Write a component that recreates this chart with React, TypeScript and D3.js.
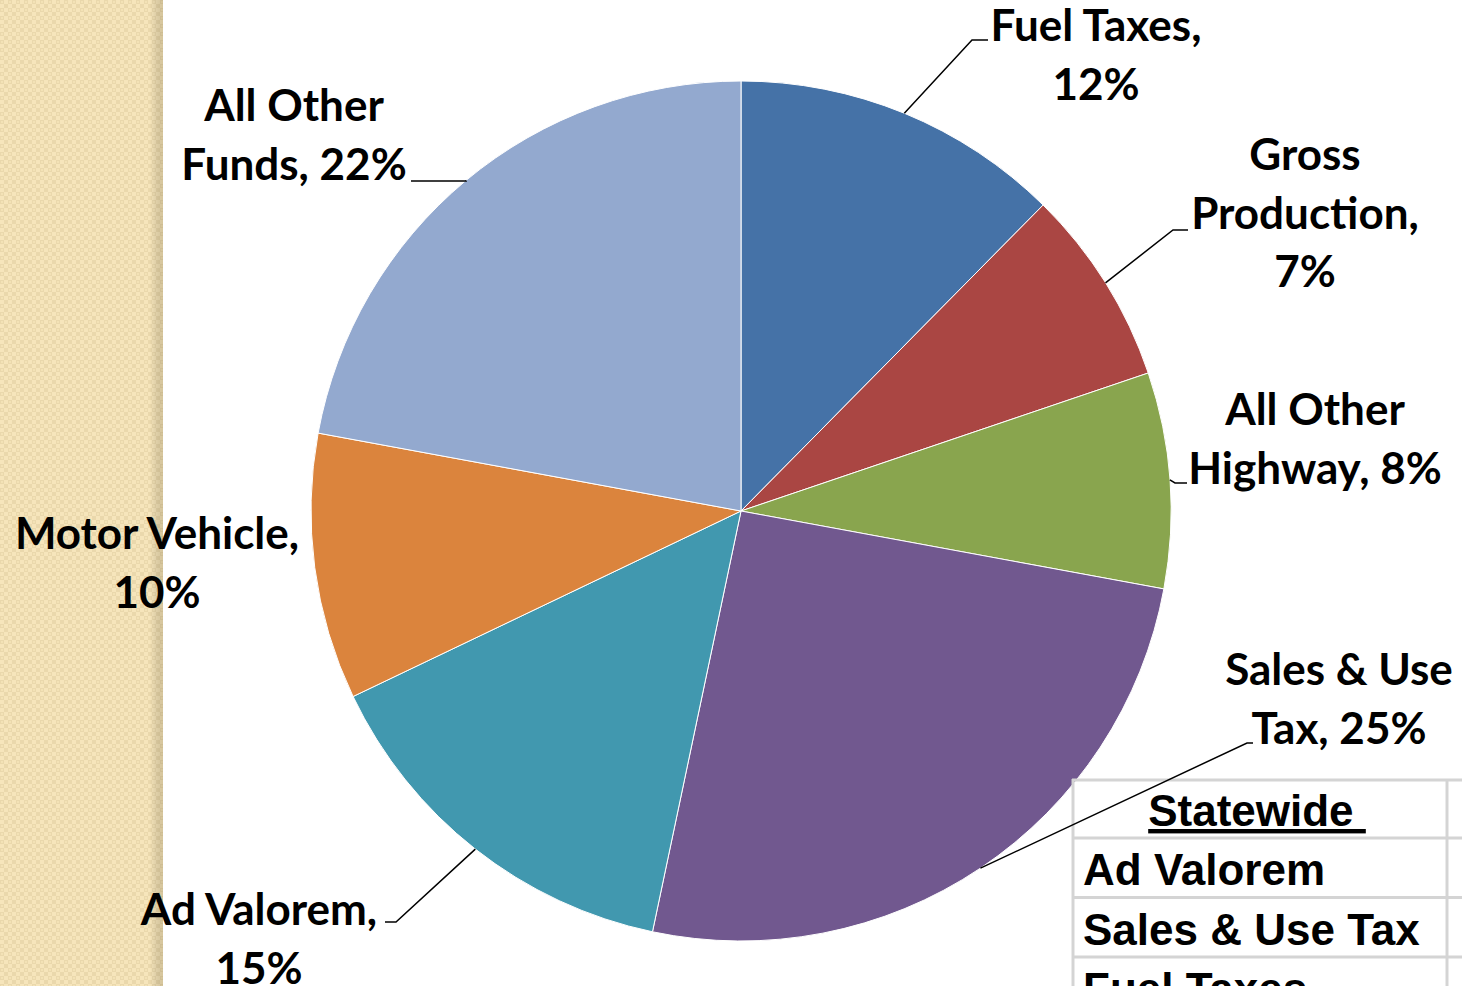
import React from "react";
import * as d3 from "d3";

const categories = [
  "Fuel Taxes",
  "Gross Production",
  "All Other Highway",
  "Sales & Use Tax",
  "Ad Valorem",
  "Motor Vehicle",
  "All Other Funds",
];
const shares = [12.4, 7.4, 8.1, 25.4, 14.6, 10.0, 22.1];
const labelLines = [
  ["Fuel Taxes,", "{p}"],
  ["Gross", "Production,", "{p}"],
  ["All Other", "Highway, {p}"],
  ["Sales & Use", "Tax, {p}"],
  ["Ad Valorem,", "{p}"],
  ["Motor Vehicle,", "{p}"],
  ["All Other", "Funds, {p}"],
];
const tableHeader = "Statewide";
const tableRows = ["Ad Valorem", "Sales & Use Tax", "Fuel Taxes"];

const colors = ["#4572A7", "#AA4643", "#89A54E", "#71588F", "#4198AF", "#DB843D", "#93A9CF"];

// label layout: center x, first baseline y, leader elbow, leader end
const labelLayout = [
  { x: 1096, y: 41, elbow: [972, 40], end: [988, 40] },
  { x: 1305, y: 170, elbow: [1173, 230], end: [1188, 230] },
  { x: 1315, y: 425, elbow: [1175, 483], end: [1187, 483] },
  { x: 1339, y: 685, elbow: [1247, 743], end: [1253, 743] },
  { x: 259, y: 925, elbow: [396, 922], end: [385, 922] },
  { x: 157, y: 549, elbow: null, end: null },
  { x: 294, y: 121, elbow: [466, 181], end: [411, 181] },
];

const W = 1462;
const H = 986;
const cx = 741;
const cy = 511;
const R = 430;
const lineH = 58.5;

export default function App() {
  const pie = d3.pie<number>().sort(null).value((d) => d)(shares);
  const arc = d3.arc<d3.PieArcDatum<number>>().innerRadius(0).outerRadius(R);
  const fmt = (v: number) => `${Math.round(v)}%`;

  return (
    <svg
      width={W}
      height={H}
      style={{ position: "absolute", left: 0, top: 0, display: "block" }}
    >
      <defs>
        <pattern id="chk" width="8" height="8" patternUnits="userSpaceOnUse">
          <rect width="8" height="8" fill="#f6e5bb" />
          <rect x="0" y="0" width="4" height="4" fill="#ead8ac" />
          <rect x="4" y="4" width="4" height="4" fill="#ead8ac" />
          <rect x="1" y="1" width="2" height="2" fill="#f3e2b6" />
        </pattern>
        <linearGradient id="shade" x1="0" x2="1" y1="0" y2="0">
          <stop offset="0" stopColor="#000" stopOpacity="0" />
          <stop offset="1" stopColor="#7a6a40" stopOpacity="0.25" />
        </linearGradient>
      </defs>
      <rect x={0} y={0} width={W} height={H} fill="#fff" />
      <rect x={0} y={0} width={163} height={H} fill="url(#chk)" />
      <rect x={150} y={0} width={13} height={H} fill="url(#shade)" />

      <g transform={`translate(${cx},${cy})`}>
        {pie.map((p, i) => (
          <path key={categories[i]} d={arc(p) || ""} fill={colors[i]} stroke="#fff" strokeWidth={1} />
        ))}
      </g>

      {/* table */}
      <g fontFamily="'Liberation Sans', Arial, sans-serif" fontWeight={700} fontSize={44} fill="#000">
        <text x={1257} y={826} textAnchor="middle" textDecoration="underline">
          {tableHeader + "\u00a0"}
        </text>
        {tableRows.map((r, i) => (
          <text key={r} x={1083} y={885 + i * 59.5}>
            {r}
          </text>
        ))}
        <g stroke="#d4d4d4" strokeWidth={3} fill="none">
          <line x1={1072} y1={780} x2={W} y2={780} />
          {tableRows.map((r, i) => (
            <line key={r} x1={1072} y1={838 + i * 59.5} x2={W} y2={838 + i * 59.5} />
          ))}
          <line x1={1073} y1={779} x2={1073} y2={H} />
          <line x1={1447} y1={779} x2={1447} y2={H} />
        </g>
      </g>

      {/* leaders and labels */}
      {pie.map((p, i) => {
        const L = labelLayout[i];
        const mid = (p.startAngle + p.endAngle) / 2;
        const sx = cx + R * Math.sin(mid);
        const sy = cy - R * Math.cos(mid);
        const lines = labelLines[i].map((s) => s.replace("{p}", fmt(shares[i])));
        return (
          <g key={categories[i]}>
            {L.elbow && L.end && (
              <polyline
                points={`${sx},${sy} ${L.elbow[0]},${L.elbow[1]} ${L.end[0]},${L.end[1]}`}
                fill="none"
                stroke="#000"
                strokeWidth={1.5}
              />
            )}
            <text
              x={L.x}
              y={L.y}
              textAnchor="middle"
              fontFamily="Lato, 'Open Sans', sans-serif"
              fontWeight={700}
              fontSize={44}
              fill="#000"
            >
              {lines.map((s, j) => (
                <tspan key={j} x={L.x} y={L.y + j * lineH}>
                  {s}
                </tspan>
              ))}
            </text>
          </g>
        );
      })}
    </svg>
  );
}
